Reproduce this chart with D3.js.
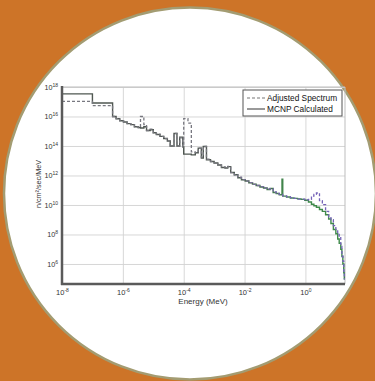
<!DOCTYPE html>
<html>
<head>
<meta charset="utf-8">
<script src="https://cdn.jsdelivr.net/npm/d3@7"></script>
<style>
  html, body { margin: 0; padding: 0; background: #CD7428; }
  svg { display: block; }
  text { font-family: "Liberation Sans", Arial, sans-serif; }
</style>
</head>
<body>
<svg id="chart" width="375" height="381"></svg>
<script>
// ---- data (energy bin lower edges in MeV; last entry is the upper end) ----
const energyEdges = [1e-8, 1e-7, 4.6e-7, 6.0e-7, 7.9e-7, 1.05e-6, 1.38e-6, 1.82e-6, 2.4e-6, 3.2e-6,
  3.8e-6, 4.9e-6, 6.0e-6, 7.9e-6, 1.0e-5, 1.26e-5, 1.66e-5, 2.2e-5, 2.9e-5, 3.6e-5,
  4.8e-5, 6.0e-5, 7.4e-5, 9.3e-5, 1.0e-4, 1.38e-4, 1.78e-4, 2.4e-4, 3.0e-4, 3.8e-4,
  4.4e-4, 5.6e-4, 7.6e-4, 1.0e-3, 1.32e-3, 1.74e-3, 2.3e-3, 2.8e-3, 3.5e-3, 4.6e-3,
  6.0e-3, 7.9e-3, 1.05e-2, 1.38e-2, 1.82e-2, 2.4e-2, 3.2e-2, 4.2e-2, 5.5e-2, 6.9e-2,
  8.7e-2, 0.11, 0.138, 0.17, 0.18, 0.24, 0.32, 0.42, 0.55, 0.72,
  0.95, 1.26, 1.58, 1.9, 2.3, 2.9, 3.6, 4.6, 5.8, 6.9,
  8.3, 10, 11.5, 12.9, 14.5, 15.8, 17, 18.2, 19, 20];

const mcnpCalculated = [3.4e17, 8.3e16, 1.0e16, 7.1e15, 5.2e15, 4.2e15, 3.3e15, 2.8e15, 2.0e15, 1.8e15,
  1.66e15, 2.0e15, 1.12e15, 1.26e15, 7.9e14, 6.0e14, 4.5e14, 3.2e14, 2.2e14, 1.0e14,
  7.1e14, 1.0e14, 4.0e14, 8.9e13, 2.8e13, 2.8e13, 2.5e13, 3.5e13, 7.2e13, 1.55e13,
  9.3e13, 1.17e13, 8.9e12, 7.1e12, 5.2e12, 3.5e12, 3.2e12, 4.0e12, 1.58e12, 1.12e12,
  7.1e11, 5.2e11, 4.2e11, 3.2e11, 2.6e11, 2.1e11, 1.66e11, 1.41e11, 1.12e11, 1.32e11,
  7.1e10, 6.0e10, 5.0e10, 5.6e11, 4.0e10, 3.5e10, 3.0e10, 2.8e10, 2.6e10, 2.4e10,
  2.1e10, 1.58e10, 1.12e10, 8.9e9, 7.1e9, 5.0e9, 3.7e9, 2.2e9, 1.12e9, 5.6e8,
  2.2e8, 1.12e8, 5.0e7, 2.5e7, 1.0e7, 3.2e6, 1.0e6, 2.5e5, 1.0e5];

const adjustedSpectrum = [1.05e17, 5.4e16, 1.0e16, 7.1e15, 5.2e15, 4.2e15, 3.3e15, 2.8e15, 2.0e15, 1.8e15,
  1.0e16, 2.8e15, 1.12e15, 1.41e15, 7.9e14, 6.3e14, 4.5e14, 3.2e14, 2.2e14, 1.0e14,
  7.1e14, 1.0e14, 3.5e14, 8.9e13, 7.1e15, 3.6e15, 4.0e13, 3.5e13, 7.2e13, 1.78e13,
  9.3e13, 1.26e13, 8.9e12, 7.1e12, 5.2e12, 3.8e12, 3.2e12, 4.2e12, 1.58e12, 1.12e12,
  7.6e11, 5.2e11, 4.2e11, 3.3e11, 2.5e11, 2.1e11, 1.78e11, 1.41e11, 1.2e11, 1.26e11,
  7.6e10, 6.0e10, 5.2e10, 5.2e10, 4.2e10, 3.5e10, 3.2e10, 2.8e10, 2.5e10, 2.5e10,
  2.2e10, 2.4e10, 4.0e10, 5.2e10, 6.5e10, 2.0e10, 1.05e10, 3.7e9, 1.58e9, 1.0e9,
  4.0e8, 2.0e8, 1.0e8, 7.1e7, 1.58e7, 3.5e6, 1.58e6, 3.2e5, 1.0e5];

const xTickValues = [1e-8, 1e-6, 1e-4, 1e-2, 1e0];
const xTickExponents = ["-8", "-6", "-4", "-2", "0"];
const yTickValues = [1e18, 1e16, 1e14, 1e12, 1e10, 1e8, 1e6];
const yTickExponents = ["18", "16", "14", "12", "10", "8", "6"];
const seriesNames = ["Adjusted Spectrum", "MCNP Calculated"];
const xLabel = "Energy (MeV)";
const yLabel = "n/cm²/sec/MeV";

// ---- layout ----
const svg = d3.select("#chart");
const L = 62, R = 345, T = 87, B = 284;

svg.append("rect").attr("width", 375).attr("height", 381).attr("fill", "#CD7428");
svg.append("circle").attr("cx", 190).attr("cy", 193.5).attr("r", 186)
  .attr("fill", "#ffffff").attr("stroke", "#a39c72").attr("stroke-width", 2.5);

const x = d3.scaleLog().domain([1e-8, 20]).range([L, R]);
const y = d3.scaleLog().domain([4.4e4, 1e18]).range([B, T]);

// gradient (grey at low energy, coloured at high energy as in the figure)
const defs = svg.append("defs");
function grad(id, c0, c1) {
  const g = defs.append("linearGradient").attr("id", id)
    .attr("gradientUnits", "userSpaceOnUse")
    .attr("x1", x(3e-3)).attr("x2", x(0.3)).attr("y1", 0).attr("y2", 0);
  g.append("stop").attr("offset", 0).attr("stop-color", c0);
  g.append("stop").attr("offset", 1).attr("stop-color", c1);
}
grad("gM", "#4f5751", "#3f8a4a");
grad("gA", "#787880", "#7563b8");

// grid + ticks via axes
const xAxis = svg.append("g").attr("transform", `translate(0,${B})`)
  .call(d3.axisBottom(x).tickValues(xTickValues).tickSize(-(B - T)).tickFormat(() => ""));
xAxis.select(".domain").remove();
xAxis.selectAll(".tick line").attr("stroke", "#d2d2d2").attr("stroke-width", 0.9);
xAxis.selectAll(".tick text").each(function (d, i) {
  const t = d3.select(this).attr("y", 11).attr("dy", null)
    .attr("fill", "#333").attr("font-size", 7.5).attr("text-anchor", "middle");
  t.append("tspan").text("10");
  t.append("tspan").attr("font-size", 5).attr("dy", -3).text(xTickExponents[i]);
});

const yAxis = svg.append("g").attr("transform", `translate(${L},0)`)
  .call(d3.axisLeft(y).tickValues(yTickValues).tickSize(-(R - L)).tickFormat(() => ""));
yAxis.select(".domain").remove();
yAxis.selectAll(".tick line").attr("stroke", "#d2d2d2").attr("stroke-width", 0.9);
yAxis.selectAll(".tick text").each(function (d, i) {
  const t = d3.select(this).attr("x", -4).attr("dy", "0.32em")
    .attr("fill", "#333").attr("font-size", 7.2).attr("text-anchor", "end");
  t.append("tspan").text("10");
  t.append("tspan").attr("font-size", 5).attr("dy", -3).text(yTickExponents[i]);
});

// frame
svg.append("line").attr("x1", L).attr("x2", R).attr("y1", T).attr("y2", T).attr("stroke", "#bdbdbd").attr("stroke-width", 1);
svg.append("line").attr("x1", R).attr("x2", R).attr("y1", T).attr("y2", B).attr("stroke", "#bdbdbd").attr("stroke-width", 1);

// series
const pts = vals => vals.map((v, i) => [energyEdges[i], v]).concat([[energyEdges[energyEdges.length - 1], vals[vals.length - 1]]]);
const line = d3.line().x(d => x(d[0])).y(d => y(d[1])).curve(d3.curveStepAfter);

svg.append("path").datum(pts(mcnpCalculated)).attr("d", line)
  .attr("fill", "none").attr("stroke", "url(#gM)").attr("stroke-width", 1.4);
svg.append("path").datum(pts(adjustedSpectrum)).attr("d", line)
  .attr("fill", "none").attr("stroke", "url(#gA)").attr("stroke-width", 1.3)
  .attr("stroke-dasharray", "3,2");

// dark left & bottom axes
svg.append("line").attr("x1", L).attr("x2", L).attr("y1", T - 1).attr("y2", B + 1).attr("stroke", "#5a5a5a").attr("stroke-width", 2.5);
svg.append("line").attr("x1", L - 1).attr("x2", R).attr("y1", B).attr("y2", B).attr("stroke", "#5a5a5a").attr("stroke-width", 2.5);

// axis labels
svg.append("text").attr("x", 203).attr("y", 304).attr("text-anchor", "middle")
  .attr("font-size", 8).attr("fill", "#333").text(xLabel);
svg.append("text").attr("transform", "translate(40.5,184) rotate(-90)").attr("text-anchor", "middle")
  .attr("font-size", 7.2).attr("fill", "#333").text(yLabel);

// legend
const lg = svg.append("g");
lg.append("rect").attr("x", 243).attr("y", 90).attr("width", 99).attr("height", 26)
  .attr("fill", "#fff").attr("stroke", "#555").attr("stroke-width", 1);
lg.append("line").attr("x1", 247).attr("x2", 265).attr("y1", 98).attr("y2", 98)
  .attr("stroke", "#777").attr("stroke-width", 1.2).attr("stroke-dasharray", "3,2");
lg.append("line").attr("x1", 247).attr("x2", 265).attr("y1", 109).attr("y2", 109)
  .attr("stroke", "#555").attr("stroke-width", 1.2);
lg.append("text").attr("x", 267).attr("y", 101).attr("font-size", 8.3).attr("fill", "#111").text(seriesNames[0]);
lg.append("text").attr("x", 267).attr("y", 112).attr("font-size", 8.3).attr("fill", "#111").text(seriesNames[1]);
</script>
</body>
</html>
